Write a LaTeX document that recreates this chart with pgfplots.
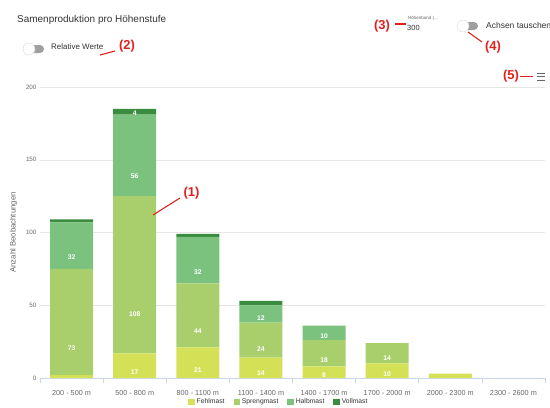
\documentclass[border=0pt]{standalone}
\usepackage{pgfplots}
\pgfplotsset{compat=1.18}
\usepackage{pgfplotstable}
\usepackage{fontspec}
\setmainfont{Liberation Sans}

\definecolor{fehl}{HTML}{D4E157}
\definecolor{spreng}{HTML}{A8CF6C}
\definecolor{halb}{HTML}{7BC27E}
\definecolor{voll}{HTML}{3A8C3E}
\definecolor{gridc}{HTML}{E6E6E6}
\definecolor{axisc}{HTML}{CCD6EB}
\definecolor{labc}{HTML}{666666}
\definecolor{titc}{HTML}{333333}
\definecolor{annot}{HTML}{E0201E}

% one table per series: x position, count, shown label
\pgfplotstableread{
x y lab
0 2 {}
1 17 17
2 21 21
3 14 14
4 8 8
5 10 10
6 3 {}
}\fehlmast
\pgfplotstableread{
x y lab
0 73 73
1 108 108
2 44 44
3 24 24
4 18 18
5 14 14
6 0 {}
}\sprengmast
\pgfplotstableread{
x y lab
0 32 32
1 56 56
2 32 32
3 12 12
4 10 10
5 0 {}
6 0 {}
}\halbmast
\pgfplotstableread{
x y lab
0 2 {}
1 4 4
2 2 {}
3 3 {}
4 0 {}
5 0 {}
6 0 {}
}\vollmast

\begin{document}
\begin{tikzpicture}
\useasboundingbox (0,0) rectangle (550bp,-408bp);
\begin{axis}[
    at={(40bp,-378bp)}, anchor=south west,
    scale only axis, width=505bp, height=291bp,
    xmin=-0.5, xmax=7.5, ymin=0, ymax=200,
    ybar stacked, bar width=43bp,
    axis x line*=bottom, axis y line*=left,
    x axis line style={draw=axisc, line width=0.6pt},
    y axis line style={draw=none},
    ytick={0,50,...,200},
    ymajorgrids, grid style={draw=gridc, line width=0.5pt},
    xtick={0,...,7},
    xticklabels={200 - 500 m, 500 - 800 m, 800 - 1100 m, 1100 - 1400 m,
                 1400 - 1700 m, 1700 - 2000 m, 2000 - 2300 m, 2300 - 2600 m},
    minor xtick={-0.5,0.5,...,7.5},
    major tick length=0pt, minor tick length=5bp,
    xtick align=outside,
    tick style={draw=axisc, line width=0.6pt},
    x tick label style={font=\fontsize{7.3}{8}\selectfont, text=labc, yshift=-8.5bp},
    y tick label style={font=\fontsize{6.3}{7}\selectfont, text=labc},
    /pgf/number format/assume math mode=true,
    ylabel={Anzahl Beobachtungen},
    ylabel style={font=\fontsize{7.8}{9}\selectfont, text=labc, yshift=2bp},
    legend style={at={(axis description cs:0.473,-0.0825)}, anchor=center,
        draw=none, fill=none, legend columns=4,
        font=\fontsize{6.8}{8}\selectfont, text=titc,
        /tikz/every even column/.append style={column sep=7bp},
        inner sep=0pt},
    legend image code/.code={\fill[#1] (0bp,-3.2bp) rectangle (6.4bp,3.2bp);},
    point meta=explicit symbolic,
    nodes near coords,
    visualization depends on={\thisrow{y} \as \rawy},
    every node near coord/.append style={anchor=center,
        yshift={-\rawy*0.36375bp},
        font=\bfseries\fontsize{6.8}{8}\selectfont, text=white},
]
\addplot[fill=fehl, draw=none] table[x=x, y=y, meta=lab] {\fehlmast};
\addlegendentry{Fehlmast}
\addplot[fill=spreng, draw=none] table[x=x, y=y, meta=lab] {\sprengmast};
\addlegendentry{Sprengmast}
\addplot[fill=halb, draw=none] table[x=x, y=y, meta=lab] {\halbmast};
\addlegendentry{Halbmast}
\addplot[fill=voll, draw=none] table[x=x, y=y, meta=lab] {\vollmast};
\addlegendentry{Vollmast}
\end{axis}

\begin{scope}[x=1bp, y=-1bp]
% header
\node[anchor=west, inner sep=0pt, text=titc, font=\fontsize{10}{12}\selectfont] at (17,20) {Samenproduktion pro Höhenstufe};
% toggle: Relative Werte
\fill[gray!75, rounded corners=4bp] (27,45) rectangle (44,53);
\fill[white, draw=gray!30, line width=0.4pt] (29,49) circle (6);
\node[anchor=west, inner sep=0pt, text=titc, font=\fontsize{8}{9}\selectfont] at (51,47) {Relative Werte};
% Höhenband
\node[anchor=west, text=labc, font=\fontsize{4.5}{5}\selectfont, inner sep=0pt] at (408,18) {Höhenband (...};
\node[anchor=west, text=titc, font=\fontsize{7.5}{8}\selectfont, inner sep=0pt] at (407,27.5) {300};
% toggle: Achsen tauschen
\fill[gray!75, rounded corners=4bp] (462,22) rectangle (478,30);
\fill[white, draw=gray!30, line width=0.4pt] (463,26) circle (6);
\node[anchor=west, text=titc, font=\fontsize{8.5}{9}\selectfont, inner sep=0pt] at (486,25) {Achsen tauschen};
% menu icon
\foreach \yy in {73,76.5,80} \draw[labc, line width=0.9pt] (537,\yy) -- (545,\yy);
% red annotations
\begin{scope}[annot, line width=1.1pt]
\draw (153,215) -- (180,198);
\node[font=\bfseries\fontsize{13}{14}\selectfont] at (191.5,193.5) {(1)};
\draw (100,55) -- (115,51);
\node[font=\bfseries\fontsize{13}{14}\selectfont] at (127,46) {(2)};
\draw (395,24) -- (406,24);
\node[font=\bfseries\fontsize{13}{14}\selectfont] at (382,26.5) {(3)};
\draw (468,32) -- (482,42);
\node[font=\bfseries\fontsize{13}{14}\selectfont] at (493,47.5) {(4)};
\draw (520,76.5) -- (533,76.5);
\node[font=\bfseries\fontsize{13}{14}\selectfont] at (511,76.5) {(5)};
\end{scope}
\end{scope}
\end{tikzpicture}
\end{document}
